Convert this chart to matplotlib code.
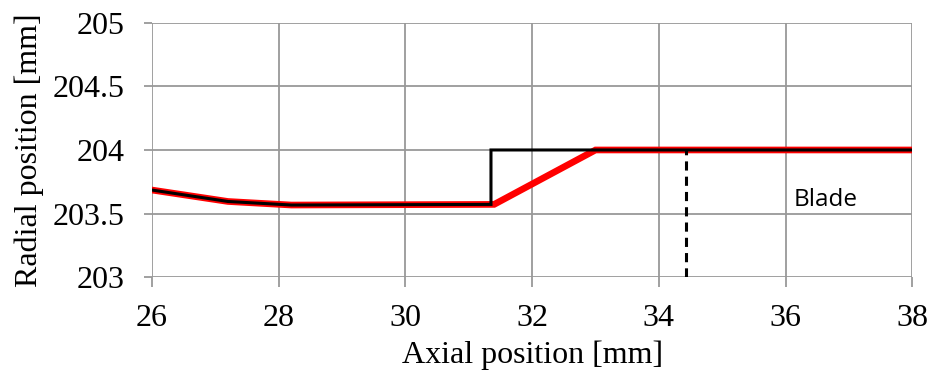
import matplotlib
matplotlib.use("Agg")
import matplotlib.pyplot as plt

# black profile (step at the blade edge)
x_black = [26.0, 27.2, 28.2, 31.35, 31.35, 38.0]
y_black = [203.685, 203.595, 203.567, 203.572, 204.0, 204.0]

# red profile (ramp)
x_red = [26.0, 27.2, 28.2, 31.4, 33.0, 38.0]
y_red = [203.685, 203.595, 203.567, 203.572, 204.0, 204.0]

blade_x = [34.42, 34.42]
blade_y = [203.0, 204.0]

xticks = [26, 28, 30, 32, 34, 36, 38]
yticks = [203, 203.5, 204, 204.5, 205]
ytick_labels = ['203', '203.5', '204', '204.5', '205']

fig = plt.figure(figsize=(9.32, 3.74), dpi=100)
ax = fig.add_axes([0.163, 0.259, 0.816, 0.68])

ax.plot(x_red, y_red, color='#ff0000', lw=4.8, solid_joinstyle='miter', zorder=3)
ax.plot(x_black, y_black, color='black', lw=2.2, solid_joinstyle='miter', zorder=4)
ax.plot(blade_x, blade_y, color='black', lw=2.2, ls=(0, (3, 2)), zorder=4)
ax.text(36.63, 203.61, 'Blade', fontsize=17.5, family='Open Sans', ha='center', va='center')

ax.set_xlim(26, 38)
ax.set_ylim(203, 205)
ax.set_xticks(xticks)
ax.set_yticks(yticks)
ax.set_yticklabels(ytick_labels)
ax.grid(True, color='#999999', lw=1.3)
ax.set_axisbelow(True)
for s in ax.spines.values():
    s.set_visible(False)
ax.tick_params(axis='y', length=6, color='#999999', width=1.3, labelsize=23, pad=14)
ax.tick_params(axis='x', length=7, color='#999999', width=1.3, labelsize=23, pad=12)
for lab in ax.get_xticklabels() + ax.get_yticklabels():
    lab.set_family('Liberation Serif')
ax.set_xlabel('Axial position [mm]', fontsize=23, family='Liberation Serif', labelpad=6)
ax.set_ylabel('Radial position [mm]', fontsize=23, family='Liberation Serif', labelpad=6)

fig.savefig('out.png', dpi=100)
